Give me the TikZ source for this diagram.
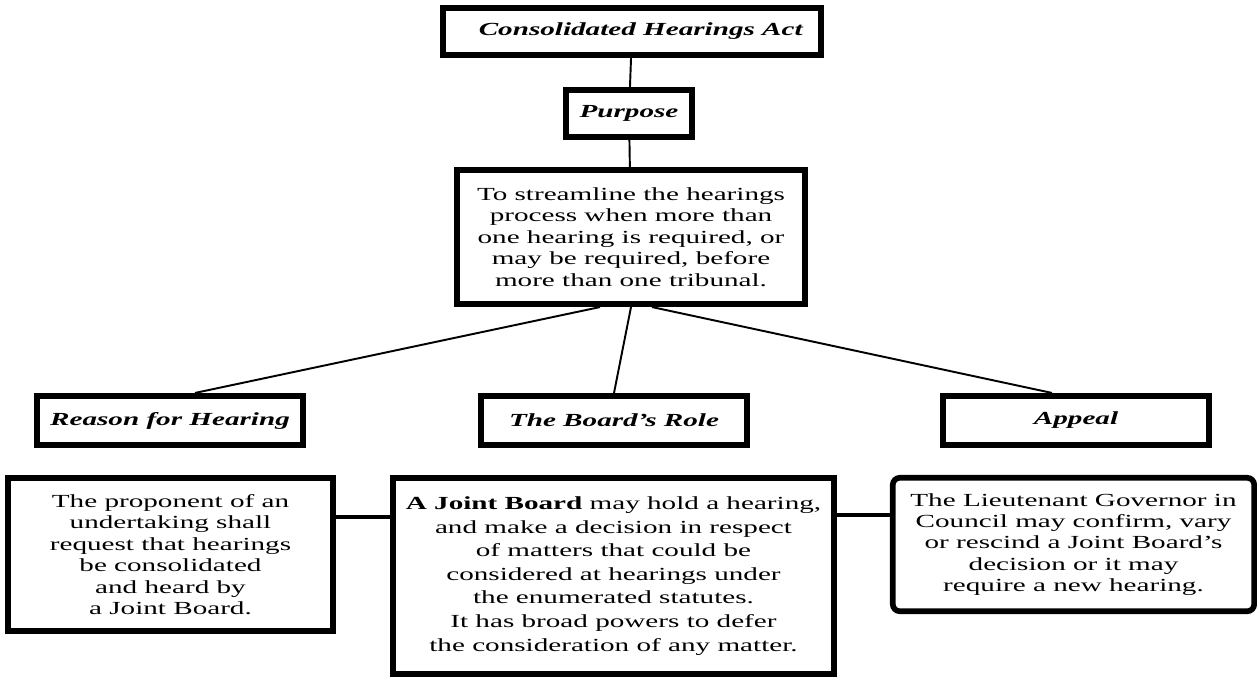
\documentclass[tikz,border=0pt]{standalone}
\usepackage{fontspec}
\setmainfont{Liberation Serif}[FakeStretch=1.58]
\usepackage{tikz}
\usetikzlibrary{positioning}

\begin{document}
\begin{tikzpicture}[x=0.02cm,y=-0.02cm,
    box/.style={draw,line width=3.2pt,inner sep=2pt,align=center,
        font=\fontsize{10.5}{12.2}\selectfont},
    hdr/.style={box,font=\fontsize{10.5}{12.2}\selectfont\bfseries\itshape,
        minimum height=0.95cm},
    link/.style={line width=1.1pt},
    joint/.style={line width=2.5pt}]
    \useasboundingbox (0,0) rectangle (1257,677);

    \node[hdr, minimum width=7.57cm] (act) at (632,31.5) {\hspace{0.35cm}Consolidated Hearings Act};
    \node[hdr, minimum width=2.53cm] (purp) at (629,113.5) {Purpose};
    \node[box, minimum width=6.97cm, minimum height=2.69cm] (aim) at (631,237)
        {To streamline the hearings\\process when more than\\one hearing is required, or\\may be required, before\\more than one tribunal.};

    \node[hdr, minimum width=5.33cm, minimum height=0.99cm] (reason) at (170,420.5) {Reason for Hearing};
    \node[hdr, minimum width=5.33cm, minimum height=0.99cm] (role) at (614,420.5) {The Board's Role};
    \node[hdr, minimum width=5.33cm, minimum height=0.99cm] (appeal) at (1076,420.5) {Appeal};

    \node[box, minimum width=6.51cm, minimum height=3.07cm] (prop) at (170.5,554.5)
        {The proponent of an\\undertaking shall\\request that hearings\\be consolidated\\and heard by\\a Joint Board.};
    \node[box, font=\fontsize{10.5}{13.4}\selectfont, minimum width=8.83cm, minimum height=3.93cm] (board) at (613.5,576)
        {\textbf{A Joint Board} may hold a hearing,\\and make a decision in respect\\of matters that could be\\considered at hearings under\\the enumerated statutes.\\It has broad powers to defer\\the consideration of any matter.};
    \node[box, rounded corners=4pt, minimum width=7.23cm, minimum height=2.67cm] (lg) at (1073.5,544.5)
        {The Lieutenant Governor in\\Council may confirm, vary\\or rescind a Joint Board's\\decision or it may\\require a new hearing.};

    \draw[link] (act) -- (purp);
    \draw[link] (purp) -- (aim);
    \draw[link] ([xshift=-0.62cm]aim.south) -- ([xshift=0.5cm]reason.north);
    \draw[link] (aim.south) -- (role.north);
    \draw[link] ([xshift=0.42cm]aim.south) -- ([xshift=-0.48cm]appeal.north);

    \draw[joint] ([yshift=0.75cm]prop.east) -- ([yshift=0.75cm]prop.east -| board.west);
    \draw[joint] ([yshift=0.59cm]lg.west -| board.east) -- ([yshift=0.59cm]lg.west);
\end{tikzpicture}
\end{document}
